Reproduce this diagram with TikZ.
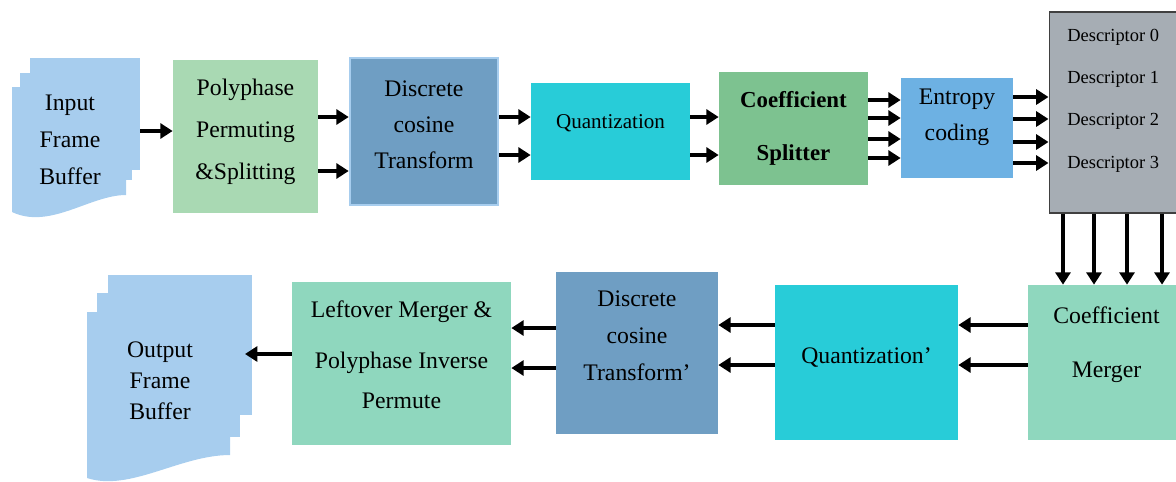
\documentclass[tikz,border=0pt]{standalone}
\usepackage{fontspec}
\setmainfont{Liberation Serif}
\usetikzlibrary{arrows.meta}
\definecolor{bufblue}{HTML}{A7CDEE}
\definecolor{polygreen}{HTML}{A9D9B3}
\definecolor{dctblue}{HTML}{6F9EC3}
\definecolor{quantcyan}{HTML}{28CCD8}
\definecolor{splitgreen}{HTML}{7DC290}
\definecolor{entblue}{HTML}{6DB1E3}
\definecolor{descgray}{HTML}{A6ADB4}
\definecolor{mergegreen}{HTML}{8FD7BE}

\begin{document}
\begin{tikzpicture}[x=0.02cm, y=-0.02cm,
  box/.style = {inner sep=0pt},
  txt/.style = {align=center, font=\fontsize{13.5}{21}\selectfont},
  desctxt/.style = {inner sep=0pt, font=\fontsize{10.5}{12}\selectfont},
  arr/.style = {-{Triangle[length=7pt,width=8.5pt]}, line width=1.9pt}]
\useasboundingbox (0,0) rectangle (1176,481);
\clip (0,0) rectangle (1176,481);

\fill[bufblue] (30,58) rectangle (140,170);
\fill[bufblue] (20,73) rectangle (132,180);
\fill[bufblue] (12,87) -- (126,87) -- (126,195) .. controls (90,195) and (50,230) .. (12,212) -- cycle;
\fill[bufblue] (108,275) rectangle (252,415);
\fill[bufblue] (97,293) rectangle (240,437);
\fill[bufblue] (87,312) -- (230,312) -- (230,455) .. controls (180,455) and (130,492) .. (87,478) -- cycle;

\node[txt] (inbuf) at (70,140) {Input\\Frame\\Buffer};
\node[txt, font=\fontsize{13.5}{17.6}\selectfont] (outbuf) at (160,381) {Output\\Frame\\Buffer};
\coordinate (inR) at (140,131);
\coordinate (outR) at (245,354);

\node[box, fill=polygreen, minimum width=2.9cm, minimum height=3.06cm] (poly) at (245.5,136.5) {};
\node[box, fill=dctblue, draw=bufblue, line width=1.5pt, minimum width=2.96cm, minimum height=2.94cm] (dct) at (424,131.5) {};
\node[box, fill=quantcyan, minimum width=3.18cm, minimum height=1.94cm] (quant) at (610.5,131.5) {};
\node[box, fill=splitgreen, minimum width=2.98cm, minimum height=2.26cm] (split) at (793.5,128.5) {};
\node[box, fill=entblue, minimum width=2.24cm, minimum height=2cm] (entropy) at (957,128) {};
\node[draw=black!75, fill=descgray, line width=0.6pt, minimum width=2.72cm, minimum height=4.02cm] (desc) at (1117,112.5) {};
\node[box, fill=mergegreen, minimum width=3.14cm, minimum height=3.1cm] (merger) at (1106.5,362.5) {};
\node[box, fill=quantcyan, minimum width=3.66cm, minimum height=3.1cm] (quant2) at (866.5,362.5) {};
\node[box, fill=dctblue, minimum width=3.24cm, minimum height=3.24cm] (dct2) at (637,353) {};
\node[box, fill=mergegreen, minimum width=4.38cm, minimum height=3.26cm] (leftover) at (401.5,363.5) {};

\node[txt, font=\fontsize{13.5}{24}\selectfont] (polyT) at (245.5,131.5) {Polyphase\\Permuting\\\&Splitting};
\node[txt, font=\fontsize{13.5}{20.4}\selectfont] (dctT) at (424,124.5) {Discrete\\cosine\\Transform};
\node[txt, font=\fontsize{12}{14}\selectfont] (quantT) at (610.5,123.5) {Quantization};
\node[txt, font=\bfseries\fontsize{13}{30.6}\selectfont] (splitT) at (793.5,128.5) {Coefficient\\Splitter};
\node[txt, font=\fontsize{13.5}{20.4}\selectfont] (entropyT) at (957,117.5) {Entropy\\coding};
\foreach \i/\y in {0/37,1/79,2/121,3/164}
  \node[desctxt, anchor=west] (d\i) at (1067,\y) {Descriptor \i};
\node[txt, font=\fontsize{13.5}{30.6}\selectfont] (mergerT) at (1106.5,344.5) {Coefficient\\Merger};
\node[txt] (quant2T) at (866.5,357.5) {Quantization'};
\node[txt] (dct2T) at (637,336) {Discrete\\cosine\\Transform'};
\node[txt, font=\fontsize{13.5}{23}\selectfont] (leftoverT) at (401.5,354.5) {Leftover Merger \&\\[6pt]Polyphase Inverse\\Permute};

\draw[arr] (inR) -- (inR -| poly.west);
\foreach \y in {117,171} \draw[arr] (poly.east |- 0,\y) -- (dct.west |- 0,\y);
\foreach \y in {117,155} \draw[arr] (dct.east |- 0,\y) -- (quant.west |- 0,\y);
\foreach \y in {117,155} \draw[arr] (quant.east |- 0,\y) -- (split.west |- 0,\y);
\foreach \y in {100,118,139,158} \draw[arr] (split.east |- 0,\y) -- (entropy.west |- 0,\y);
\foreach \y in {97,119,142,163} \draw[arr] (entropy.east |- 0,\y) -- (desc.west |- 0,\y);
\foreach \x in {1063,1094,1127,1162} \draw[arr] (desc.south -| \x,0) -- (merger.north -| \x,0);
\foreach \y in {325,365} \draw[arr] (merger.west |- 0,\y) -- (quant2.east |- 0,\y);
\foreach \y in {325,365} \draw[arr] (quant2.west |- 0,\y) -- (dct2.east |- 0,\y);
\foreach \y in {328,368} \draw[arr] (dct2.west |- 0,\y) -- (leftover.east |- 0,\y);
\draw[arr] (leftover.west |- 0,354) -- (outR);
\end{tikzpicture}
\end{document}
